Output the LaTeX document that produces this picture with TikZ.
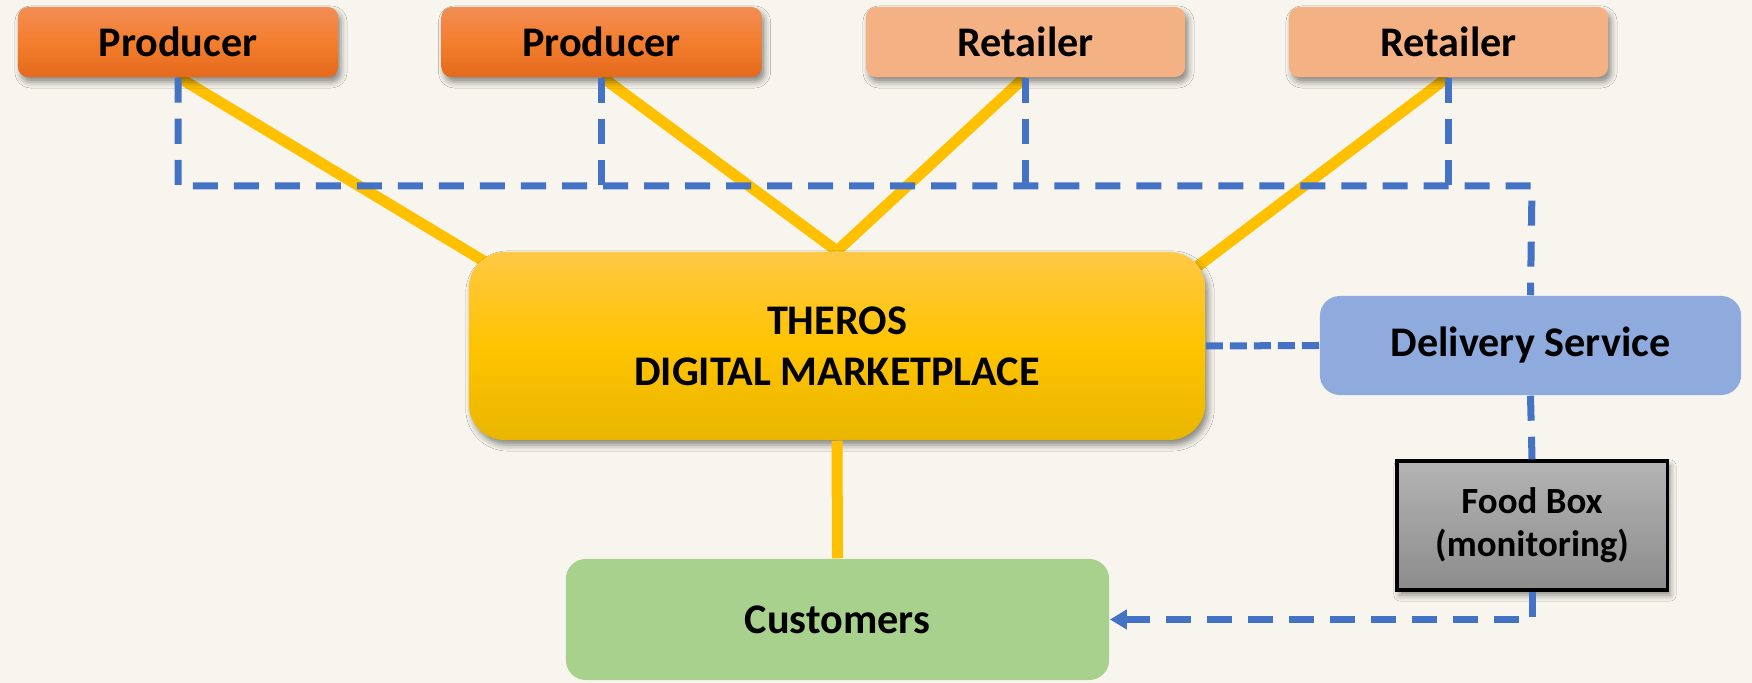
\documentclass[tikz,border=0pt]{standalone}
\usepackage{fontspec}
\setmainfont{Carlito}
\usetikzlibrary{shadows.blur,arrows.meta}
\definecolor{bg}{HTML}{F8F5EE}
\definecolor{Ptop}{HTML}{F28D56}
\definecolor{Pmid}{HTML}{F47E2E}
\definecolor{Pbot}{HTML}{E4691C}
\definecolor{Ret}{HTML}{F4B183}
\definecolor{Ttop}{HTML}{FFC845}
\definecolor{Tmid}{HTML}{FFC400}
\definecolor{Tbot}{HTML}{E9B600}
\definecolor{Del}{HTML}{8FAADC}
\definecolor{Cus}{HTML}{A9D18E}
\definecolor{Ftop}{HTML}{B4B4B4}
\definecolor{Fbot}{HTML}{8C8C8C}
\definecolor{Yel}{HTML}{FFC000}
\definecolor{Blu}{HTML}{4472C4}
\tikzset{
  shd/.style={blur shadow={shadow xshift=0.03cm, shadow yshift=-0.05cm, shadow blur radius=0.06cm, shadow opacity=45}},
  box/.style={inner sep=0pt, align=center, text=black, font=\bfseries\fontsize{12}{14.5}\selectfont},
  prod/.style={box, shd, rounded corners=0.1cm, top color=Ptop, bottom color=Pbot, middle color=Pmid, minimum width=3.2cm, minimum height=0.7cm},
  ret/.style={box, shd, rounded corners=0.1cm, fill=Ret, minimum width=3.19cm, minimum height=0.7cm},
  hub/.style={box, shd, rounded corners=0.36cm, top color=Ttop, bottom color=Tbot, middle color=Tmid, minimum width=7.36cm, minimum height=1.88cm},
  deliv/.style={box, rounded corners=0.2cm, fill=Del, minimum width=4.21cm, minimum height=0.99cm},
  cust/.style={box, rounded corners=0.2cm, fill=Cus, minimum width=5.43cm, minimum height=1.21cm},
  fbox/.style={box, shd, draw=black, line width=0.9pt, top color=Ftop, bottom color=Fbot, minimum width=2.7cm, minimum height=1.29cm, font=\bfseries\fontsize{10.5}{12.2}\selectfont},
  yl/.style={draw=Yel, line width=0.11cm},
  bl/.style={draw=Blu, line width=0.07cm, dash pattern=on 0.25cm off 0.16cm},
  bls/.style={draw=Blu, line width=0.07cm, dash pattern=on 0.17cm off 0.07cm},
}
\begin{document}
\begin{tikzpicture}[x=0.01cm,y=-0.01cm]
\fill[bg] (0,0) rectangle (1752,683);
\useasboundingbox (0,0) rectangle (1752,683);

% coordinates for connector ends
\coordinate (bus) at (1532,186);
\coordinate (v) at (837,251);
\coordinate (tl) at (492,266);
\coordinate (tr) at (1198,266);

% yellow connectors (under boxes)
\path[yl] (178,77) -- (tl);
\path[yl] (602,77) -- (v);
\path[yl] (1025,77) -- (v);
\path[yl] (1448,77) -- (tr);

% boxes
\node[prod] (p1) at (178,42) {Producer};
\node[prod] (p2) at (601.5,42) {Producer};
\node[ret] (r1) at (1025.5,42) {Retailer};
\node[ret] (r2) at (1448.5,42) {Retailer};
\node[hub] (th) at (837,346) {THEROS\\DIGITAL MARKETPLACE};
\node[deliv] (ds) at (1530.5,345.5) {Delivery Service};
\node[fbox] (fb) at (1532,525.5) {Food Box\\(monitoring)};
\node[cust] (cu) at (837.5,619.5) {Customers};

% yellow line from bottom of Theros to Customers
\path[yl] (th.south) -- (cu.north);

% blue dashed connectors
\path[bl] (p1.south) |- (bus) -- (ds.north);
\path[bl] (p2.south) -- (p2.south |- bus);
\path[bl] (r1.south) -- (r1.south |- bus);
\path[bl] (r2.south) -- (r2.south |- bus);
\path[bls] (th.east) -- (ds.west);
\path[bl] (ds.south) -- (fb.north);
\path[bl, -{Triangle[length=0.17cm,width=0.19cm]}] (fb.south) |- (cu.east);
\end{tikzpicture}
\end{document}
